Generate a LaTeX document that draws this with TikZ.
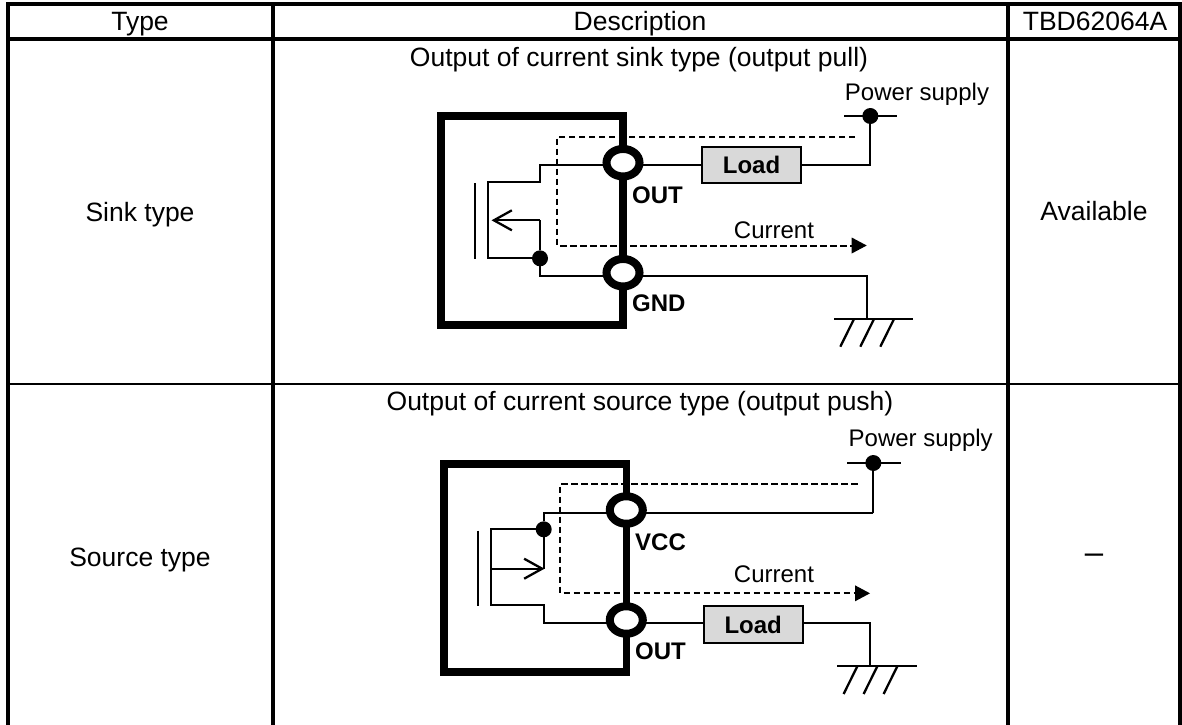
\documentclass[tikz,border=0pt]{standalone}
\usepackage{fontspec}
\setmainfont{Liberation Sans}
\usetikzlibrary{arrows.meta,backgrounds,calc,shapes.geometric}

\begin{document}
\begin{tikzpicture}
  [x=1pt,y=-1pt,
   grid/.style={line width=4pt,line cap=rect},
   rowline/.style={line width=2.6pt},
   cell/.style={anchor=base,inner sep=0pt,font=\fontsize{26.5}{30}\selectfont},
   tag/.style={anchor=base,inner sep=0pt,font=\fontsize{24}{28}\selectfont},
   pinname/.style={anchor=base west,inner sep=0pt,font=\fontsize{24}{28}\selectfont\bfseries},
   chip/.style={line width=7.7pt,line join=miter},
   pad/.style={ellipse,draw,fill=white,line width=8pt,inner sep=0pt,outer sep=0pt,
               minimum width=33pt,minimum height=27.5pt},
   load/.style={rectangle,draw,fill=black!15,line width=1.8pt,inner sep=0pt,outer sep=0pt,
                minimum width=99pt,minimum height=36.5pt,
                font=\fontsize{24}{28}\selectfont\bfseries},
   junction/.style={circle,fill=black,inner sep=0pt,outer sep=0pt,minimum size=16pt},
   wire/.style={line width=2.3pt,line join=miter},
   current/.style={line width=2pt,dash pattern=on 6.5pt off 3.5pt},
   gate/.style={-{Straight Barb[length=18pt,width=20pt,line width=2.3pt]},line width=2.3pt}]
  \useasboundingbox (0,0) rectangle (1182,724);

  % table
  \coordinate (tl) at (8,3.5);
  \coordinate (tr) at (1180,3.5);
  \coordinate (bl) at (8,724);
  \coordinate (br) at (1180,724);
  \draw [grid] (bl) -- (tl) -- (tr) -- (br);
  \draw [grid] (8,38.7) -- (1180,38.7);
  \draw [grid] (273,3.5) -- (273,724);
  \draw [grid] (1008,3.5) -- (1008,724);
  \draw [rowline] (8,384) -- (1180,384);
  \node[cell] (typehead)  at (140,30.7)  {Type};
  \node[cell] (deschead)  at (640,30.7)  {Description};
  \node[cell] (parthead)  at (1095,30.7) {TBD62064A};
  \node[cell] (sinktype)  at (140,221)   {Sink type};
  \node[cell] (sourcetype) at (140,566)  {Source type};
  \node[cell] (sinkavail) at (1094,220.7) {Available};
  \node[cell,font=\fontsize{33}{36}\selectfont] (sourceavail) at (1094,563.5) {--};
  \node[cell] (sinktitle) at (639,66)    {Output of current sink type (output pull)};
  \node[cell] (sourcetitle) at (640,410) {Output of current source type (output push)};

  % sink type
  \node[pad]      (sinkout)  at (623,162.7) {};
  \node[pad]      (sinkgnd)  at (623,272.7) {};
  \node[load]     (sinkload) at (751.5,165) {Load};
  \node[junction] (sinkdot)  at (540,258.3) {};
  \node[junction] (sinkvcc)  at (870.3,116) {};
  \coordinate (sinkearth) at (867,319);
  \node[tag] (sinkpower) at (917,100)  {Power supply};
  \node[tag] (sinkcur)   at (774,238)  {Current};
  \node[pinname] (sinkoutname) at (632,203)   {OUT};
  \node[pinname] (sinkgndname) at (632,311.7) {GND};
  \begin{scope}[on background layer]
    \draw [chip] (441,116) rectangle (623,325);
    \draw [wire] (sinkload) -- (540,165) |- (487.7,182.3) |- (sinkdot);
    \draw [wire] (474.7,183) -- (474.7,258.7);
    \draw [wire] (540,220.3) -- (sinkdot) -- (540,275.7) -- (sinkgnd.center |- 0,275.7);
    \draw [wire] (sinkload) -| (sinkvcc);
    \draw [wire] (sinkgnd.center |- 0,275.7) -| (sinkearth);
    \draw [wire] (844,116) -- (897.3,116);
    \draw [wire] (834.3,319) -- (913.3,319);
    \foreach \dx in {-13,7,27}
      \draw [wire] ($(sinkearth)+(\dx,0)$) -- ++(-13.7,27.7);
  \end{scope}
  \draw [gate] (540,220.3) -- (491.5,220.3);
  \draw [current] (855,136.7) -- (557,136.7) -- (557,245.5) -- (853,245.5);
  \fill (851.7,237.5) -- (866.7,245.5) -- (851.7,253.5) -- cycle;

  % source type
  \node[pad]      (srcvcc)  at (626.3,510) {};
  \node[pad]      (srcout)  at (626.3,620) {};
  \node[load]     (srcload) at (753.2,624.5) {Load};
  \node[junction] (srcdot)  at (543.7,529.3) {};
  \node[junction] (srcsup)  at (873.3,463) {};
  \coordinate (srcearth) at (870.3,666.3);
  \coordinate (srcwire) at (753.2,622.7);
  \node[tag] (srcpower) at (920.7,446.7) {Power supply};
  \node[tag] (srccur)   at (774,582)     {Current};
  \node[pinname] (srcvccname) at (635,550) {VCC};
  \node[pinname] (srcoutname) at (635,659) {OUT};
  \begin{scope}[on background layer]
    \draw [chip] (444,463.7) rectangle (626.5,672.3);
    \draw [wire] (srcsup |- 0,512.7) -- (543.7,512.7) -- (srcdot);
    \draw [wire] (srcdot) -- (491,529.3) |- (543.7,605.3) |- (srcwire);
    \draw [wire] (srcdot) -- (543.7,568.7);
    \draw [wire] (478,530.7) -- (478,606);
    \draw [wire] (srcsup) -- (srcsup |- 0,512.7);
    \draw [wire] (srcwire) -| (srcearth);
    \draw [wire] (847.3,463) -- (900.7,463);
    \draw [wire] (837.3,666.3) -- (916.7,666.3);
    \foreach \dx in {-13,7,27}
      \draw [wire] ($(srcearth)+(\dx,0)$) -- ++(-13.7,27.7);
  \end{scope}
  \draw [gate] (491,568.7) -- (544.5,568.7);
  \draw [current] (857.7,484) -- (560.3,484) -- (560.3,593.3) -- (856,593.3);
  \fill (855,585.3) -- (870,593.3) -- (855,601.3) -- cycle;
\end{tikzpicture}
\end{document}
